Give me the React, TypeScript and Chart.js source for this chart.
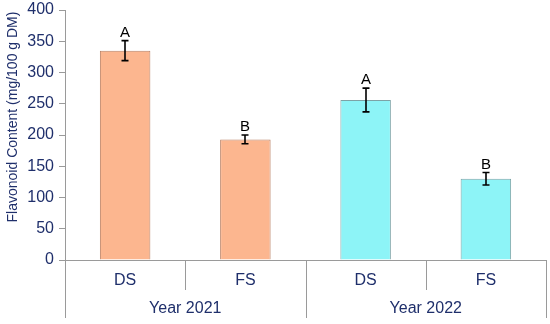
import React, { useEffect, useRef } from "react";
import { Chart, registerables } from "chart.js";

Chart.register(...registerables);

const categories = ["DS", "FS", "DS", "FS"];
const groups = ["Year 2021", "Year 2022"];
const values = [335, 193, 256, 130];
const errors = [16, 7, 19, 10];
const letters = ["A", "B", "A", "B"];
const yTicks = [0, 50, 100, 150, 200, 250, 300, 350, 400];
const yTitle = "Flavonoid Content (mg/100 g DM)";

const FONT = "'Liberation Sans', Arial, sans-serif";
const NAVY = "#1F2F6B";
const fills = ["#FCB68F", "#FCB68F", "#8DF4F7", "#8DF4F7"];
const borders = ["#B98064", "#B98064", "#7DA3A6", "#7DA3A6"];

const decorPlugin = {
  id: "decor",
  afterDatasetsDraw(chart: any) {
    const ctx = chart.ctx;
    const y = chart.scales.y;
    const x = chart.scales.x;
    const meta = chart.getDatasetMeta(0);
    ctx.save();
    // error bars + letters
    meta.data.forEach((bar: any, i: number) => {
      const cx = Math.round(bar.x);
      const top = y.getPixelForValue(values[i] + errors[i]);
      const bot = y.getPixelForValue(values[i] - errors[i]);
      ctx.strokeStyle = "#000";
      ctx.lineWidth = 1.6;
      ctx.beginPath();
      ctx.moveTo(cx, top);
      ctx.lineTo(cx, bot);
      ctx.moveTo(cx - 3.5, top);
      ctx.lineTo(cx + 3.5, top);
      ctx.moveTo(cx - 3.5, bot);
      ctx.lineTo(cx + 3.5, bot);
      ctx.stroke();
      ctx.fillStyle = "#000";
      ctx.font = `15px ${FONT}`;
      ctx.textAlign = "center";
      ctx.textBaseline = "alphabetic";
      ctx.fillText(letters[i], cx, top - 4);
    });
    // x axis two-level labels
    const bottom = chart.chartArea.bottom;
    const left = chart.chartArea.left;
    const right = chart.chartArea.right;
    const n = categories.length;
    const cw = (right - left) / n;
    ctx.strokeStyle = "#9A9A9A";
    ctx.lineWidth = 1;
    ctx.beginPath();
    ctx.moveTo(left - 6, Math.round(bottom) + 0.5);
    ctx.lineTo(right, Math.round(bottom) + 0.5);
    for (let i = 0; i <= n; i++) {
      const px = Math.round(left + cw * i) + 0.5;
      const full = i % 2 === 0;
      ctx.moveTo(px, bottom);
      ctx.lineTo(px, full ? bottom + 58 : bottom + 30);
    }
    ctx.stroke();
    ctx.fillStyle = NAVY;
    ctx.font = `16px ${FONT}`;
    ctx.textAlign = "center";
    ctx.textBaseline = "middle";
    categories.forEach((c, i) => {
      ctx.fillText(c, x.getPixelForValue(i), bottom + 21);
    });
    groups.forEach((g, gi) => {
      ctx.fillText(g, left + cw * (gi * 2 + 1), bottom + 49);
    });
    // y title
    ctx.translate(13, 117);
    ctx.rotate(-Math.PI / 2);
    ctx.font = `14px ${FONT}`;
    ctx.fillText(yTitle, 0, 0);
    ctx.restore();
  },
};

export default function App() {
  const ref = useRef<HTMLCanvasElement>(null);
  useEffect(() => {
    document.body.style.margin = "0";
    const chart = new Chart(ref.current!, {
      type: "bar",
      data: {
        labels: categories.map((c, i) => `${c}${i}`),
        datasets: [
          {
            data: values,
            backgroundColor: fills,
            borderColor: borders,
            borderWidth: 1,
            barPercentage: 0.42,
            categoryPercentage: 1,
          },
        ],
      },
      options: {
        responsive: false,
        animation: false,
        events: [],
        layout: { padding: { left: 3, right: 4, top: 0, bottom: 0 } },
        plugins: { legend: { display: false }, tooltip: { enabled: false } },
        scales: {
          x: {
            grid: { display: false, drawTicks: false },
            border: { display: false },
            ticks: { display: false },
            afterFit: (s: any) => {
              s.height = 64;
            },
          },
          y: {
            min: 0,
            max: 400,
            afterBuildTicks: (s: any) => {
              s.ticks = yTicks.map((v) => ({ value: v }));
            },
            grid: { drawOnChartArea: false, drawTicks: true, tickLength: 6, color: "#9A9A9A" },
            border: { display: true, color: "#9A9A9A" },
            ticks: { color: NAVY, font: { family: FONT, size: 16 }, padding: 5 },
            afterFit: (s: any) => {
              s.width = 62;
              s.paddingTop = 10;
            },
          },
        },
      },
      plugins: [decorPlugin],
    });
    return () => chart.destroy();
  }, []);
  return (
    <div style={{ width: 550, height: 324 }}>
      <canvas ref={ref} width={550} height={324} style={{ display: "block" }} />
    </div>
  );
}
